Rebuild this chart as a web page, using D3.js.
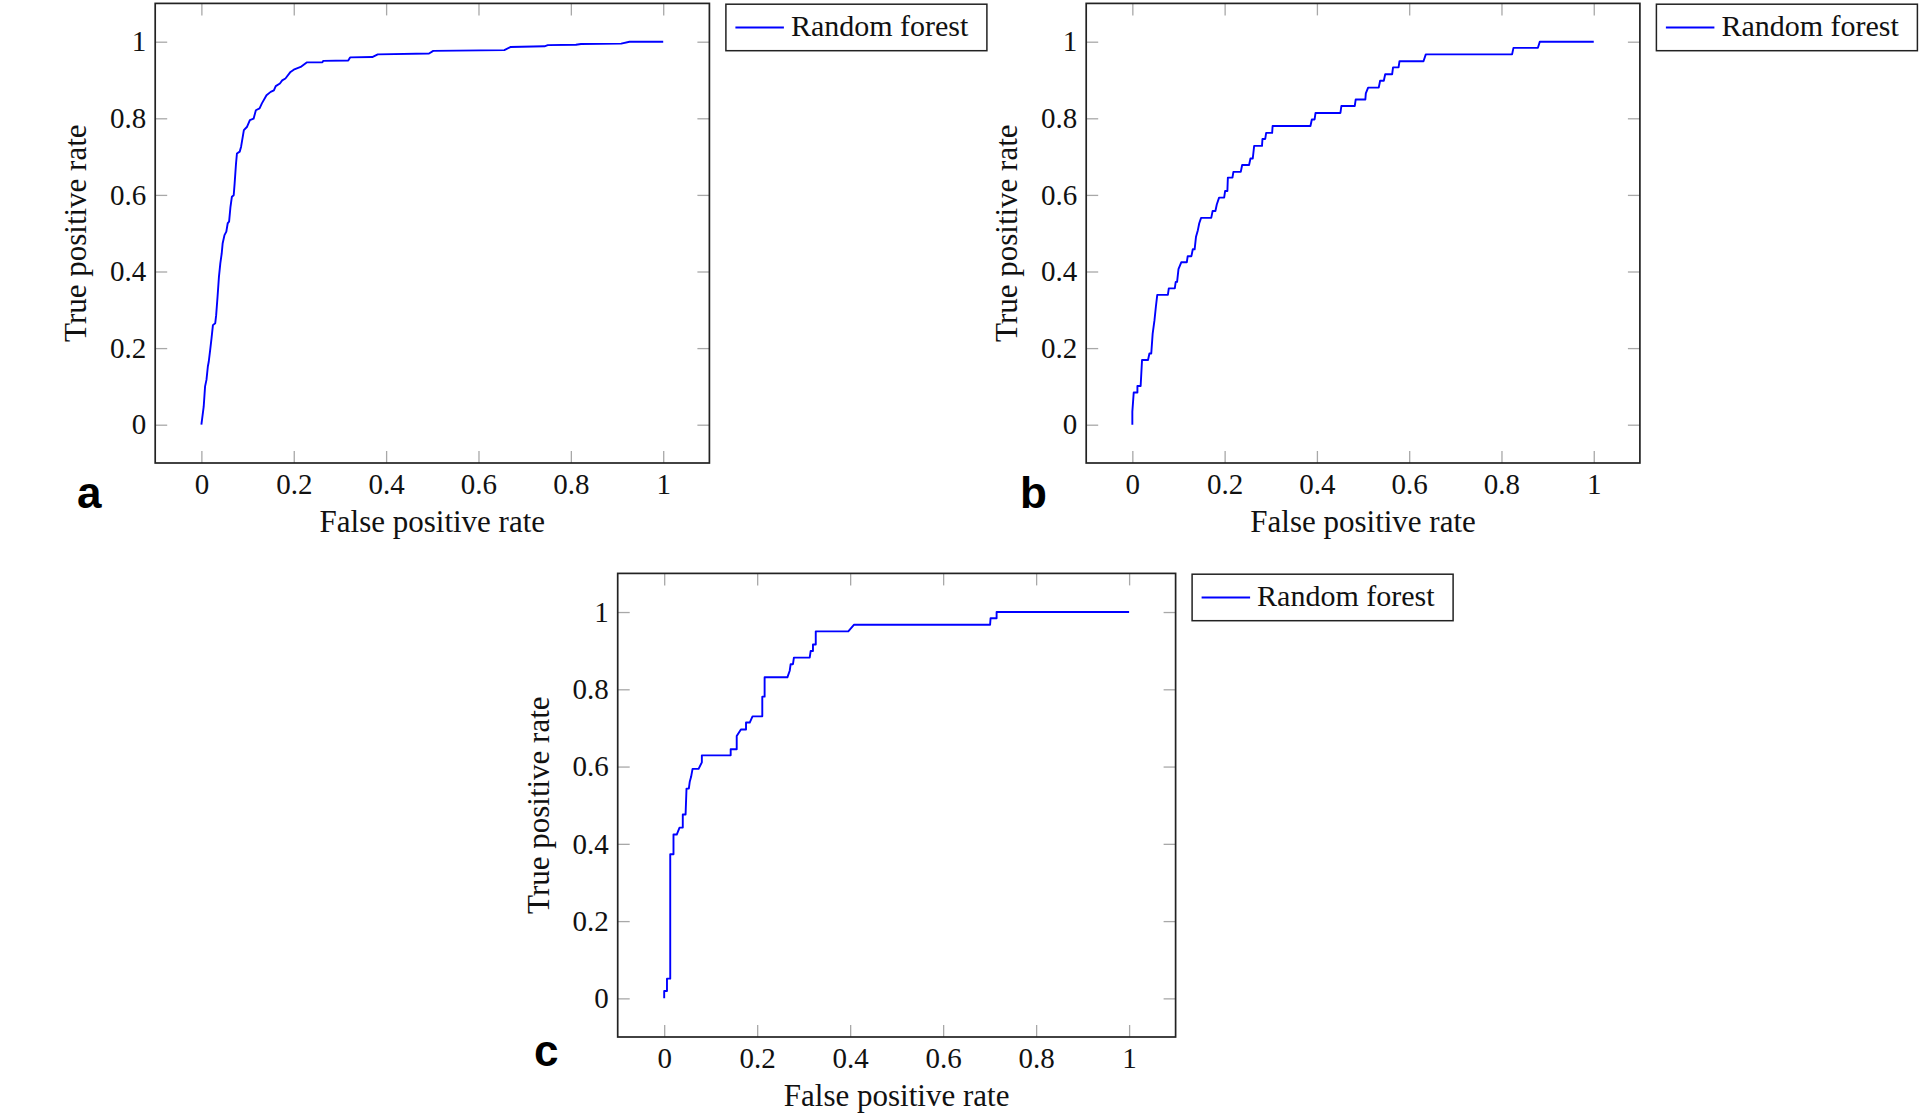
<!DOCTYPE html>
<html>
<head>
<meta charset="utf-8">
<script src="https://cdn.jsdelivr.net/npm/d3@7"></script>
<style>
  html, body { margin: 0; padding: 0; background: #fff; }
  svg { display: block; }
  .tick text { font-family: "Liberation Serif", "Times New Roman", serif; font-size: 29px; fill: #111; }
  .tick line { stroke: #a8a8a8; stroke-width: 1.3px; }
  .serif { font-family: "Liberation Serif", "Times New Roman", serif; fill: #111; }
  .plabel { font-family: "Liberation Sans", Arial, sans-serif; font-weight: bold; font-size: 44px; fill: #000; }
</style>
</head>
<body>
<svg id="chart" width="1920" height="1114"></svg>
<script>
// ---------------- data ----------------
const tickValues = [0, 0.2, 0.4, 0.6, 0.8, 1];
const tickLabels = ["0", "0.2", "0.4", "0.6", "0.8", "1"];
const seriesName = "Random forest";
const xTitle = "False positive rate";
const yTitle = "True positive rate";
const panelNames = ["a", "b", "c"];

// Panel a ROC
const fprA = [0,0.005,0.008,0.011,0.014,0.016,0.019,0.022,0.025,0.030,0.032,0.035,0.038,0.041,0.044,0.046,0.050,0.054,0.057,0.060,0.063,0.066,0.070,0.072,0.075,0.077,0.083,0.086,0.092,0.099,0.105,0.113,0.118,0.126,0.131,0.141,0.150,0.157,0.161,0.170,0.175,0.182,0.193,0.200,0.215,0.228,0.262,0.264,0.318,0.322,0.370,0.382,0.493,0.502,0.656,0.669,0.743,0.750,0.811,0.822,0.909,0.927,1];
const tprA = [0,0.047,0.100,0.117,0.152,0.165,0.195,0.226,0.260,0.265,0.286,0.334,0.386,0.421,0.447,0.473,0.495,0.504,0.526,0.530,0.569,0.595,0.599,0.630,0.682,0.708,0.713,0.726,0.769,0.778,0.795,0.799,0.821,0.826,0.839,0.860,0.869,0.873,0.884,0.891,0.899,0.904,0.921,0.927,0.934,0.946,0.946,0.950,0.951,0.959,0.960,0.967,0.969,0.976,0.978,0.986,0.988,0.991,0.992,0.994,0.995,1,1];

// Panel b ROC
const fprB = [0,0,0.003,0.011,0.011,0.018,0.021,0.034,0.037,0.041,0.044,0.048,0.051,0.054,0.077,0.079,0.092,0.094,0.097,0.100,0.106,0.118,0.120,0.128,0.131,0.135,0.138,0.142,0.145,0.149,0.171,0.174,0.180,0.183,0.188,0.199,0.201,0.206,0.207,0.217,0.219,0.235,0.238,0.253,0.256,0.261,0.264,0.281,0.282,0.288,0.290,0.303,0.304,0.386,0.389,0.395,0.397,0.451,0.453,0.482,0.484,0.505,0.506,0.511,0.534,0.537,0.545,0.548,0.563,0.565,0.577,0.579,0.631,0.636,0.823,0.826,0.879,0.883,1];
const tprB = [0,0.034,0.084,0.084,0.101,0.101,0.169,0.169,0.186,0.186,0.237,0.273,0.308,0.339,0.339,0.356,0.356,0.373,0.373,0.406,0.424,0.424,0.440,0.440,0.458,0.458,0.491,0.508,0.526,0.540,0.540,0.558,0.558,0.575,0.593,0.593,0.610,0.610,0.645,0.645,0.660,0.660,0.678,0.678,0.695,0.695,0.728,0.728,0.746,0.746,0.762,0.762,0.780,0.780,0.797,0.797,0.814,0.814,0.832,0.832,0.849,0.849,0.865,0.880,0.880,0.898,0.898,0.915,0.915,0.933,0.933,0.949,0.949,0.967,0.967,0.984,0.984,1,1];

// Panel c ROC
const fprC = [0,0,0.006,0.006,0.013,0.013,0.020,0.020,0.027,0.033,0.040,0.040,0.046,0.048,0.053,0.055,0.058,0.061,0.074,0.081,0.081,0.143,0.143,0.156,0.156,0.165,0.176,0.176,0.184,0.190,0.211,0.211,0.216,0.216,0.265,0.270,0.272,0.277,0.279,0.313,0.315,0.320,0.320,0.326,0.326,0.396,0.408,0.701,0.702,0.715,0.715,1];
const tprC = [0,0.019,0.019,0.051,0.051,0.373,0.373,0.424,0.424,0.442,0.442,0.476,0.476,0.543,0.543,0.561,0.574,0.594,0.594,0.611,0.629,0.629,0.645,0.645,0.679,0.696,0.696,0.714,0.714,0.730,0.730,0.781,0.781,0.831,0.831,0.848,0.865,0.865,0.882,0.882,0.899,0.899,0.916,0.916,0.950,0.950,0.967,0.967,0.984,0.984,1,1];

// ---------------- layout ----------------
const panels = [
  { name: panelNames[0], fpr: fprA, tpr: tprA, left: 155.2, top: 3.4, w: 554.2, h: 459.6, labelX: 77, labelY: 508 },
  { name: panelNames[1], fpr: fprB, tpr: tprB, left: 1086.2, top: 3.4, w: 553.7, h: 459.6, labelX: 1020, labelY: 508 },
  { name: panelNames[2], fpr: fprC, tpr: tprC, left: 617.7, top: 573.4, w: 557.9, h: 463.6, labelX: 534, labelY: 1066 }
];

const svg = d3.select("#chart");
const fmt = d => tickLabels[tickValues.indexOf(d)];

panels.forEach(p => {
  const x = d3.scaleLinear().domain([-0.1, 1.1]).range([p.left, p.left + p.w]);
  const y = d3.scaleLinear().domain([-0.1, 1.1]).range([p.top + p.h, p.top]);
  const g = svg.append("g");
  const bottom = p.top + p.h, right = p.left + p.w;

  // axes (ticks inside, on all four sides)
  const ax = [
    g.append("g").attr("transform", `translate(0,${bottom})`)
      .call(d3.axisBottom(x).tickValues(tickValues).tickSizeInner(-12).tickSizeOuter(0).tickPadding(10).tickFormat(fmt)),
    g.append("g").attr("transform", `translate(0,${p.top})`)
      .call(d3.axisTop(x).tickValues(tickValues).tickSizeInner(-12).tickSizeOuter(0).tickFormat("")),
    g.append("g").attr("transform", `translate(${p.left},0)`)
      .call(d3.axisLeft(y).tickValues(tickValues).tickSizeInner(-12).tickSizeOuter(0).tickPadding(9).tickFormat(fmt)),
    g.append("g").attr("transform", `translate(${right},0)`)
      .call(d3.axisRight(y).tickValues(tickValues).tickSizeInner(-12).tickSizeOuter(0).tickFormat(""))
  ];
  ax.forEach(a => { a.select(".domain").remove(); a.attr("font-family", null).attr("font-size", null); });

  // curve
  const pts = p.fpr.map((v, i) => [v, p.tpr[i]]);
  g.append("path").datum(pts)
    .attr("fill", "none").attr("stroke", "#0000ff").attr("stroke-width", 1.9)
    .attr("stroke-linejoin", "round")
    .attr("d", d3.line().x(d => x(d[0])).y(d => y(d[1])));

  // frame
  g.append("rect").attr("x", p.left).attr("y", p.top).attr("width", p.w).attr("height", p.h)
    .attr("fill", "none").attr("stroke", "#222").attr("stroke-width", 1.7);

  // axis titles
  g.append("text").attr("class", "serif").attr("font-size", 31)
    .attr("x", p.left + p.w / 2).attr("y", bottom + 69).attr("text-anchor", "middle").text(xTitle);
  g.append("text").attr("class", "serif").attr("font-size", 31)
    .attr("transform", `translate(${p.left - 69},${p.top + p.h / 2}) rotate(-90)`)
    .attr("text-anchor", "middle").text(yTitle);

  // panel letter
  g.append("text").attr("class", "plabel").attr("x", p.labelX).attr("y", p.labelY).text(p.name);

  // legend
  const lx = right + 16.5, ly = p.top + 0.8;
  const lg = g.append("g").attr("transform", `translate(${lx},${ly})`);
  lg.append("rect").attr("width", 261).attr("height", 46.5).attr("fill", "#fff")
    .attr("stroke", "#222").attr("stroke-width", 1.5);
  lg.append("line").attr("x1", 9.5).attr("x2", 58).attr("y1", 23.3).attr("y2", 23.3)
    .attr("stroke", "#0000ff").attr("stroke-width", 1.9);
  lg.append("text").attr("class", "serif").attr("font-size", 30)
    .attr("x", 65).attr("y", 31.5).text(seriesName);
});
</script>
</body>
</html>
